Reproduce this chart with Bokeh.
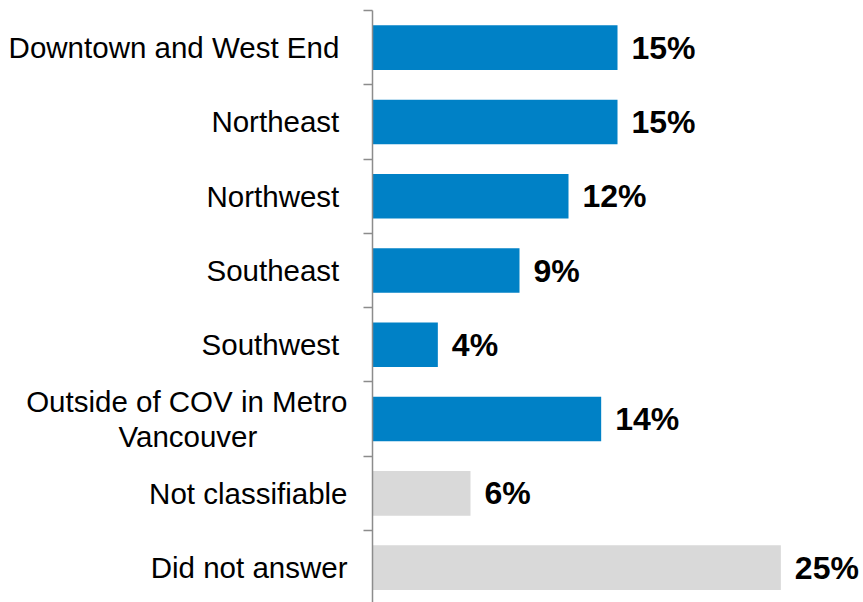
from bokeh.plotting import figure
from bokeh.models import ColumnDataSource, Range1d, FixedTicker
from bokeh.core.properties import value
from bokeh.embed import file_html
from bokeh.resources import INLINE

NB = "\u00a0"
categories = [
    "Downtown and West End" + NB,
    "Northeast" + NB,
    "Northwest" + NB,
    "Southeast" + NB,
    "Southwest" + NB,
    "Outside of COV in Metro\nVancouver" + NB * 11,
    "Not classifiable",
    "Did not answer",
]
values = [15, 15, 12, 9, 4, 14, 6, 25]
labels = ["15%", "15%", "12%", "9%", "4%", "14%", "6%", "25%"]
colors = ["#0081C6"] * 6 + ["#D9D9D9"] * 2

ypos = list(range(len(categories)))
src = ColumnDataSource(dict(y=ypos, v=values, lab=labels, c=colors))

p = figure(width=863, height=602, output_backend="svg", toolbar_location=None,
           x_range=Range1d(0, 30.06), y_range=Range1d(7.469, -0.5),
           min_border_left=372, min_border_right=0, min_border_top=10, min_border_bottom=0)

p.hbar(y="y", right="v", left=0, height=0.6, color="c", source=src, line_color=None)
p.text(x="v", y="y", text="lab", source=src, x_offset=14, text_baseline="middle",
       text_align="left", text_font=value("Liberation Sans"), text_font_size="32px",
       text_font_style="bold", text_color="black")

p.xaxis.visible = False
p.xgrid.visible = False
p.ygrid.visible = False
p.outline_line_color = None

ax = p.yaxis[0]
ax.ticker = FixedTicker(ticks=ypos, minor_ticks=[i - 0.5 for i in range(len(categories) + 1)])
ax.major_label_overrides = {i: c for i, c in enumerate(categories)}
ax.major_tick_out = 0
ax.major_tick_in = 0
ax.minor_tick_out = 9
ax.minor_tick_in = 0
ax.minor_tick_line_color = "#8C8C8C"
ax.minor_tick_line_width = 1.5
ax.axis_line_color = "#8C8C8C"
ax.axis_line_width = 1.5
ax.major_label_standoff = 16
ax.major_label_text_font = "Liberation Sans"
ax.major_label_text_font_size = "29.5px"
ax.major_label_text_line_height = 1.05
ax.major_label_text_color = "black"

open("out.html", "w").write(file_html(p, INLINE))
